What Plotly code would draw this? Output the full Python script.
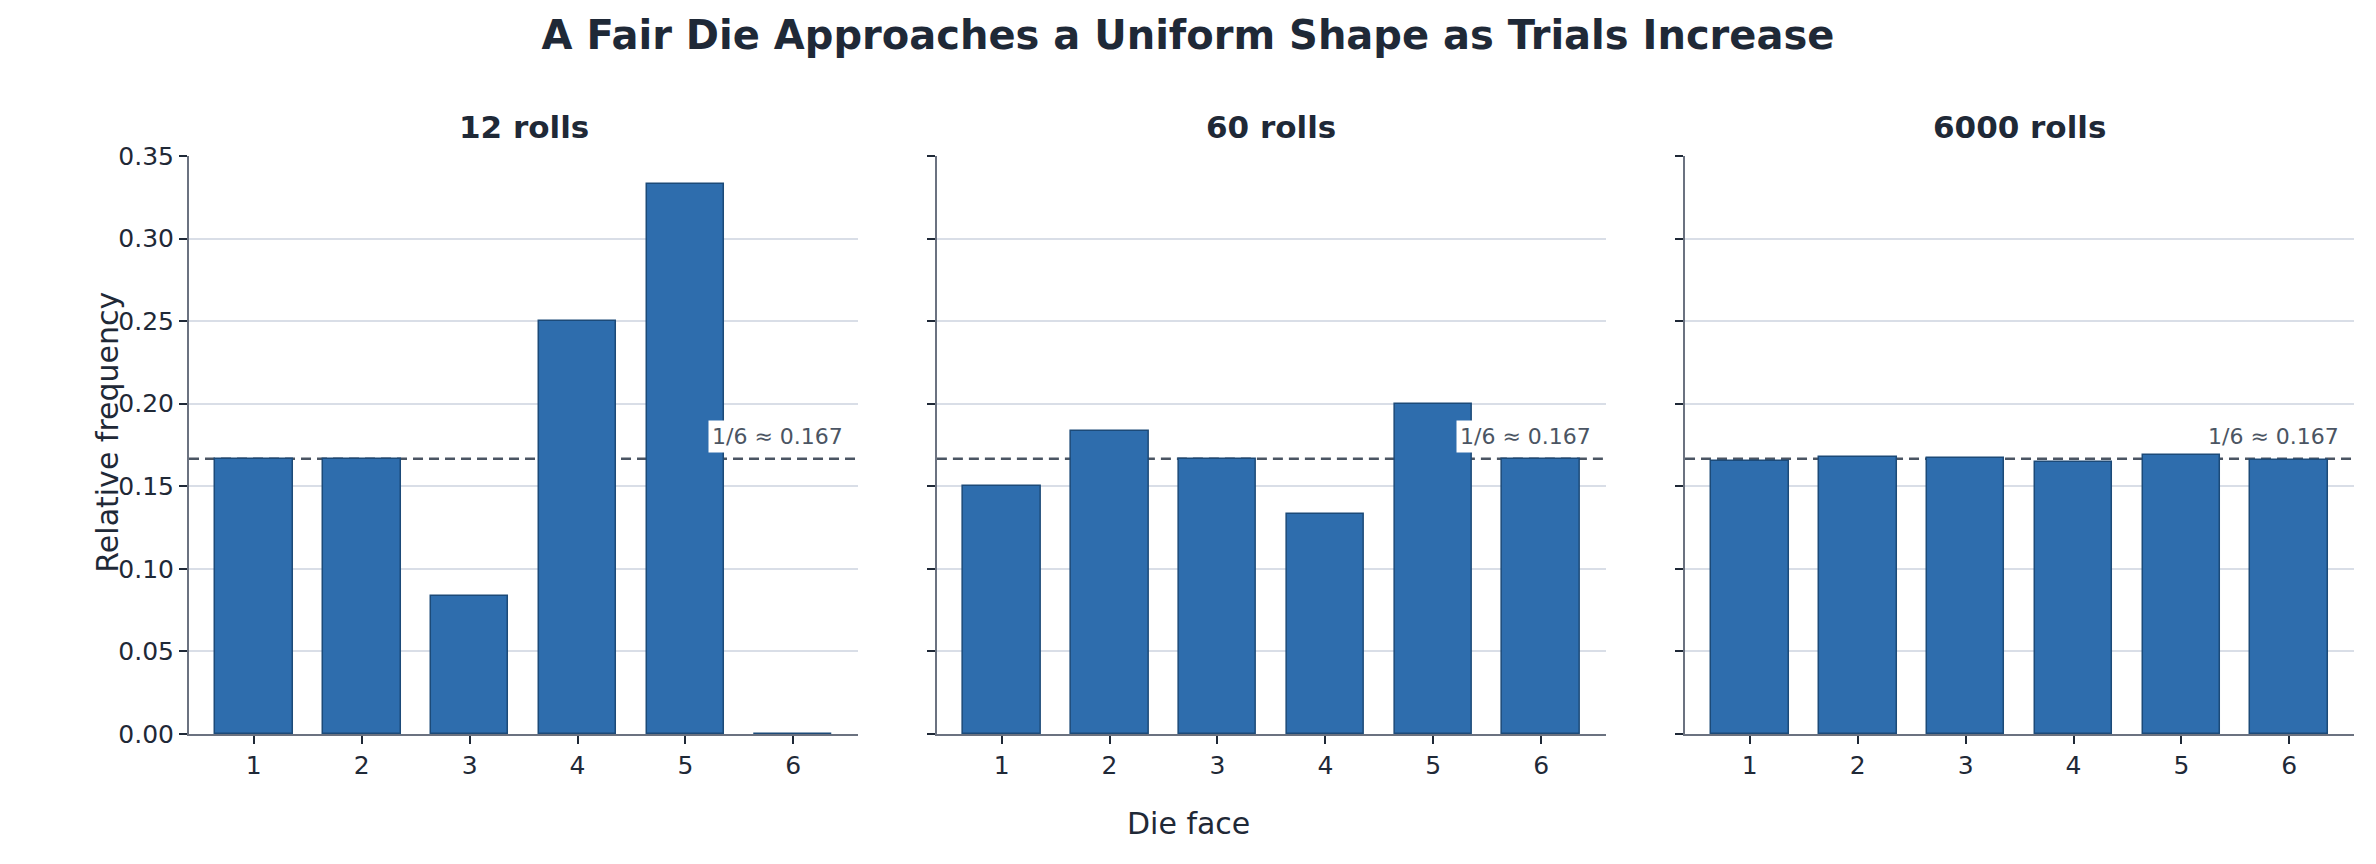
import plotly.graph_objects as go

faces = [1, 2, 3, 4, 5, 6]
face_labels = ['1', '2', '3', '4', '5', '6']

# counts per face
counts_12 = [2, 2, 1, 3, 4, 0]
counts_60 = [9, 11, 10, 8, 12, 10]
counts_6000 = [993, 1007, 1002, 990, 1014, 994]

panel_titles = ['12 rolls', '60 rolls', '6000 rolls']
expected = 1 / 6

FONT = 'DejaVu Sans'
DARK = '#1f2937'
BAR_FILL = '#2e6dad'
BAR_EDGE = '#1c4a78'
SPINE = '#6b7280'
GRID = '#d9dee7'

# page is shown with the browser's 8px body margin, so size the figure to fit inside
W, H = 2360, 848

fig = go.Figure()

# panel x-domains and common y-domain (paper fractions)
x_domains = [(0.0767, 0.3602), (0.3936, 0.6771), (0.7106, 0.9941)]
y_domain = (0.1439, 0.8255)

all_counts = [counts_12, counts_60, counts_6000]
for i, counts in enumerate(all_counts):
    n = sum(counts)
    rel = [c / n for c in counts]
    suffix = '' if i == 0 else str(i + 1)
    fig.add_trace(go.Bar(
        x=faces, y=rel, width=0.72,
        marker=dict(color=BAR_FILL, line=dict(color=BAR_EDGE, width=1.5)),
        xaxis='x' + suffix, yaxis='y' + suffix,
        showlegend=False,
        hovertemplate='Face %{x}: %{y:.3f}<extra></extra>',
    ))

    #dashed reference line at 1/6, drawn behind the bars
    fig.add_shape(
        type='line', xref='x' + suffix, yref='y' + suffix,
        x0=0.4, x1=6.6, y0=expected, y1=expected,
        line=dict(color='#4b5563', width=2.5, dash='10px,6px'),
        layer='below',
    )
    fig.add_annotation(
        x=1, xref='x' + suffix + ' domain', y=expected, yref='y' + suffix,
        text='1/6 ≈ 0.167', showarrow=False,
        xanchor='right', yanchor='middle', xshift=-11, yshift=22,
        bgcolor='white', borderpad=3,
        font=dict(family=FONT, size=22, color='#4b5563'),
    )

    #panel title
    fig.add_annotation(
        x=(x_domains[i][0] + x_domains[i][1]) / 2, xref='paper',
        y=0.8597, yref='paper',
        text='<b>' + panel_titles[i] + '</b>', showarrow=False,
        xanchor='center', yanchor='middle',
        font=dict(family=FONT, size=31, color=DARK),
    )

    xaxis = dict(
        domain=list(x_domains[i]), anchor='y' + suffix,
        range=[0.4, 6.6], tickmode='array', tickvals=faces, ticktext=face_labels,
        showline=True, linecolor=SPINE, linewidth=2,
        ticks='outside', ticklen=8, tickwidth=2, tickcolor=DARK,
        showgrid=False, zeroline=False, automargin=False,
        tickfont=dict(family=FONT, size=25, color=DARK),
    )
    yaxis = dict(
        domain=list(y_domain), anchor='x' + suffix,
        range=[0, 0.35], dtick=0.05, tickformat='.2f',
        showline=True, linecolor=SPINE, linewidth=2,
        ticks='outside', ticklen=8, tickwidth=2, tickcolor=DARK,
        showgrid=True, gridcolor=GRID, gridwidth=1.5, zeroline=False,
        showticklabels=(i == 0), automargin=False,
        tickfont=dict(family=FONT, size=25, color=DARK),
    )
    fig.layout['xaxis' + suffix] = xaxis
    fig.layout['yaxis' + suffix] = yaxis

#shared axis titles
fig.add_annotation(
    x=0.5, xref='paper', y=0.0389, yref='paper',
    text='Die face', showarrow=False, xanchor='center', yanchor='middle',
    font=dict(family=FONT, size=30, color=DARK),
)
fig.add_annotation(
    x=0.0418, xref='paper', y=0.5, yref='paper',
    text='Relative frequency', showarrow=False, textangle=-90,
    xanchor='center', yanchor='middle',
    font=dict(family=FONT, size=30, color=DARK),
)

fig.update_layout(
    width=W, height=H,
    margin=dict(l=0, r=0, t=0, b=0),
    paper_bgcolor='white', plot_bgcolor='white',
    title=dict(
        text='<b>A Fair Die Approaches a Uniform Shape as Trials Increase</b>',
        x=0.5, xanchor='center', y=0.9682, yanchor='middle',
        font=dict(family=FONT, size=40, color=DARK),
    ),
    bargap=0,
)

fig.write_html('out.html')
